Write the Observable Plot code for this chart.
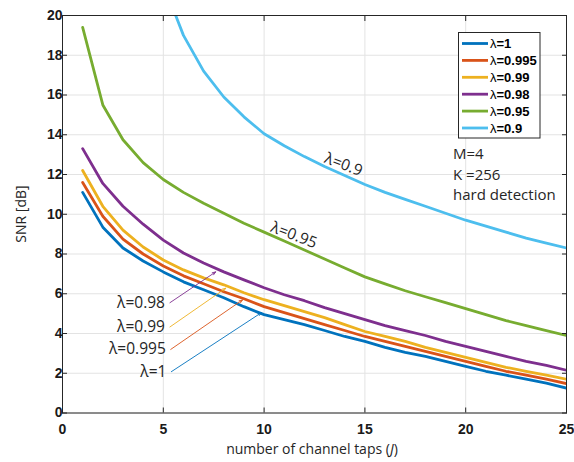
<!DOCTYPE html>
<html><head><meta charset="utf-8">
<script src="https://cdn.jsdelivr.net/npm/d3@7"></script>
<script src="https://cdn.jsdelivr.net/npm/@observablehq/plot@0.6"></script>
<style>body{margin:0;background:#fff;} #chart{position:relative;width:574px;height:462px;}</style>
</head><body><div id="chart"></div>
<script>
// ---- data ----
const taps = [1,2,3,4,5,6,7,8,9,10,11,12,13,14,15,16,17,18,19,20,21,22,23,24,25];
const snrLam1    = [11.1,9.35,8.3,7.65,7.1,6.6,6.2,5.8,5.35,4.95,4.7,4.45,4.15,3.85,3.6,3.3,3.05,2.85,2.6,2.35,2.1,1.9,1.7,1.5,1.25];
const snrLam0995 = [11.6,9.9,8.75,8.0,7.4,6.9,6.5,6.1,5.75,5.35,5.05,4.75,4.45,4.15,3.85,3.6,3.35,3.1,2.85,2.6,2.35,2.1,1.9,1.7,1.48];
const snrLam099  = [12.2,10.4,9.2,8.35,7.7,7.2,6.8,6.45,6.05,5.7,5.4,5.1,4.8,4.45,4.1,3.85,3.6,3.3,3.05,2.8,2.55,2.3,2.1,1.9,1.7];
const snrLam098  = [13.3,11.55,10.4,9.5,8.7,8.05,7.55,7.1,6.7,6.3,5.95,5.65,5.3,5.0,4.7,4.4,4.15,3.9,3.6,3.35,3.1,2.85,2.6,2.4,2.15];
const snrLam095  = [19.4,15.5,13.75,12.6,11.75,11.1,10.55,10.05,9.55,9.1,8.65,8.2,7.75,7.3,6.85,6.5,6.15,5.85,5.55,5.25,4.95,4.65,4.4,4.15,3.9];
const snrLam09   = [null,null,null,null,21.6,19.0,17.2,15.9,14.9,14.05,13.45,12.9,12.4,11.95,11.5,11.1,10.75,10.4,10.05,9.7,9.4,9.1,8.8,8.55,8.3];
const seriesNames  = ["λ=1","λ=0.995","λ=0.99","λ=0.98","λ=0.95","λ=0.9"];
const seriesValues = [snrLam1, snrLam0995, snrLam099, snrLam098, snrLam095, snrLam09];
const seriesColors = ["#0072BD","#D95319","#EDB120","#7E2F8E","#77AC30","#4DBEEE"];
const xTicks = [0,5,10,15,20,25];
const yTicks = [0,2,4,6,8,10,12,14,16,18,20];

// arrow annotations (label at tail)
const annLabels = ["λ=0.98","λ=0.99","λ=0.995","λ=1"];
const annSeries = [3,2,1,0];
const annX1 = [5.33,5.33,5.37,5.4];
const annY1 = [5.55,4.33,3.2,2.08];
const annX2 = [7.6,8.1,8.93,9.87];
const annY2 = [7.1,6.28,5.69,5.05];
// curve labels (rotated)
const curveLabels = ["λ=0.95","λ=0.9"];
const curveX = [11.48,13.94];
const curveY = [8.95,12.5];
const infoLines = ["M=4","K =256","hard detection"];

// ---- tables ----
const rows = [];
seriesNames.forEach((name,i)=>taps.forEach((t,j)=>{
  if (seriesValues[i][j] != null) rows.push({taps:t, snr:seriesValues[i][j], series:name});
}));
const anns = annLabels.map((l,i)=>({label:l, x1:annX1[i], y1:annY1[i], x2:annX2[i], y2:annY2[i], color:seriesColors[annSeries[i]]}));
const curves = curveLabels.map((l,i)=>({label:l, x:curveX[i], y:curveY[i]}));

const ink = "#262626";
const font = "'Open Sans', 'Noto Sans', sans-serif";
const tickFont = "'Liberation Sans', Arial, sans-serif";

const chart = Plot.plot({
  width: 574, height: 462,
  marginLeft: 62, marginRight: 8, marginTop: 15, marginBottom: 49.5,
  style: {fontFamily: tickFont, background: "#fff", color: ink},
  x: {domain: [0,25]},
  y: {domain: [0,20]},
  color: {domain: seriesNames, range: seriesColors},
  marks: [
    Plot.gridX(xTicks, {stroke: "#e3e3e3", strokeOpacity: 1}),
    Plot.gridY(yTicks, {stroke: "#e3e3e3", strokeOpacity: 1}),
    Plot.line(rows, {x: "taps", y: "snr", z: "series", stroke: "series", strokeWidth: 2.8, clip: true}),
    Plot.arrow(anns, {x1: "x1", y1: "y1", x2: "x2", y2: "y2", stroke: d=>d.color, strokeWidth: 0.9, headLength: 6, headAngle: 40}),
    Plot.text(anns, {x: "x1", y: "y1", text: "label", textAnchor: "end", dx: -5, fontSize: 15.5, fill: ink, fontFamily: font}),
    Plot.text(curves, {x: "x", y: "y", text: "label", rotate: 21, fontSize: 15.5, fill: ink, fontFamily: font}),
    Plot.frame({stroke: ink, strokeWidth: 1}),
    Plot.axisX(xTicks, {anchor: "bottom", tickSize: -5, tickPadding: 16, fontSize: 14, fontWeight: "bold", label: null, stroke: ink, fill: "#1a1a1a"}),
    Plot.axisX(xTicks, {anchor: "top", tickSize: -5, tickFormat: () => "", label: null, stroke: ink}),
    Plot.axisY(yTicks, {anchor: "left", tickSize: -5, tickPadding: 5, fontSize: 14, fontWeight: "bold", label: null, stroke: ink, fill: "#1a1a1a"}),
    Plot.axisY(yTicks, {anchor: "right", tickSize: -5, tickFormat: () => "", label: null, stroke: ink})
  ]
});
document.getElementById("chart").appendChild(chart);

// axis titles, info text and legend drawn into the SVG
const svg = d3.select(chart);
const xl = svg.append("text").attr("x", 312).attr("y", 454).attr("text-anchor", "middle")
  .attr("font-family", font).attr("font-size", 14).attr("fill", ink);
xl.append("tspan").text("number of channel taps (");
xl.append("tspan").attr("font-style", "italic").text("J");
xl.append("tspan").text(")");
svg.append("text").attr("transform", "translate(26,214) rotate(-90)").attr("text-anchor", "middle")
  .attr("font-family", font).attr("font-size", 14).attr("fill", ink).text("SNR [dB]");
infoLines.forEach((t,i)=>svg.append("text").attr("x", 453).attr("y", 159 + i*20.5)
  .attr("text-anchor", "start").attr("font-family", font).attr("font-size", 15).attr("fill", ink).text(t));

const lg = svg.append("g");
lg.append("rect").attr("x", 458.5).attr("y", 32.5).attr("width", 81.5).attr("height", 105.5)
  .attr("fill", "#fff").attr("stroke", ink).attr("stroke-width", 1);
seriesNames.forEach((n,i)=>{
  const y = 43.5 + i*16.9;
  lg.append("line").attr("x1", 462).attr("x2", 488).attr("y1", y).attr("y2", y)
    .attr("stroke", seriesColors[i]).attr("stroke-width", 2.8);
  const t = lg.append("text").attr("x", 490).attr("y", y + 4.5).attr("text-anchor", "start")
    .attr("font-family", tickFont).attr("font-size", 13).attr("font-weight", "bold").attr("fill", "#000");
  t.append("tspan").attr("font-weight", "normal").text("λ");
  t.append("tspan").text(n.slice(1));
});
</script>
</body></html>
